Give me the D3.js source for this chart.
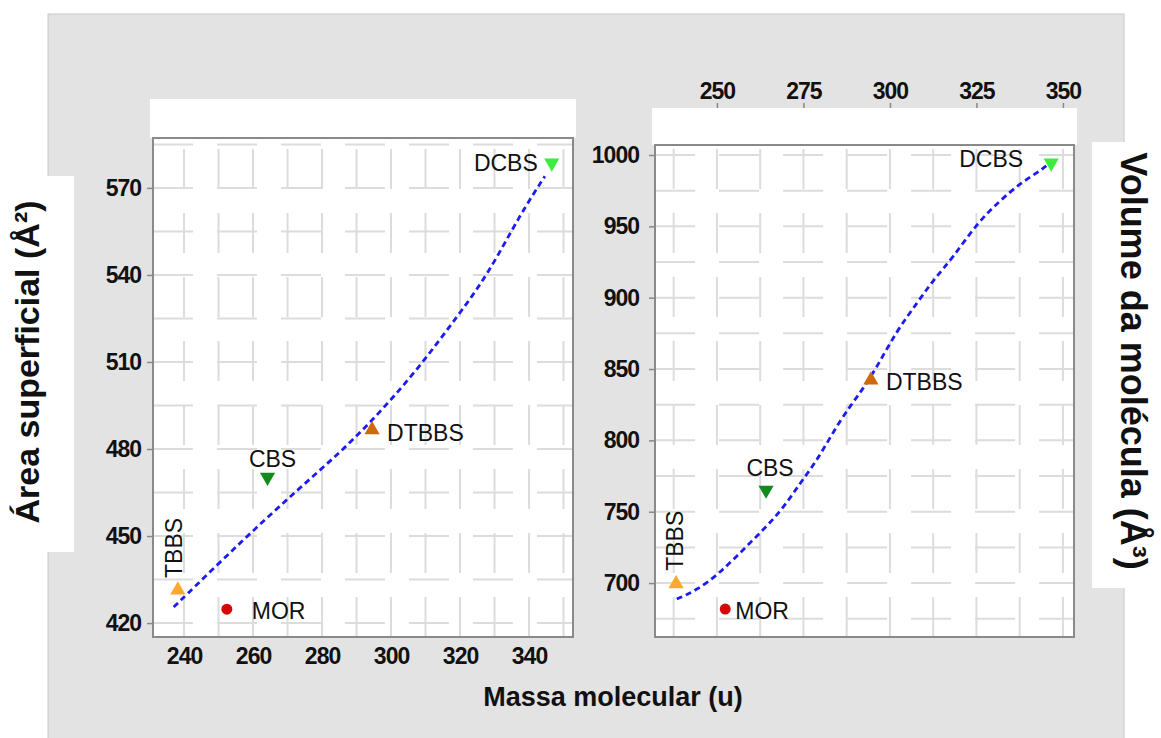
<!DOCTYPE html>
<html>
<head>
<meta charset="utf-8">
<script src="https://cdn.jsdelivr.net/npm/d3@7"></script>
<style>
  body { margin: 0; background: #fff; }
  text { font-family: "Liberation Sans", Arial, sans-serif; fill: #111; }
</style>
</head>
<body>
<div class="chart"></div>
<script>
// compounds and values
var compounds = ["TBBS", "MOR", "CBS", "DTBBS", "DCBS"];
var massValues = [238.2, 252.4, 264.2, 294.5, 346.6];
var areaValues = [431.4, 424.8, 470.3, 486.6, 578.6];
var volumeValues = [699.5, 681.8, 765.2, 842.3, 994.4];

// dashed fit curves
var areaFitMass = [237, 250, 261, 273, 284, 294, 307.5, 320, 328, 337.5, 344.6];
var areaFitValues = [425.5, 440.5, 453, 466, 477.5, 489, 507, 527, 540, 561, 574];
var volumeFitMass = [238.4, 244.2, 250.9, 259.5, 268.2, 274, 279, 285.5, 291.3, 295.7, 302, 307.8, 312.4, 318.2, 325.1, 331.8, 337.6, 342.8, 345.5];
var volumeFitValues = [688.8, 695, 707, 728, 749, 770, 786, 814, 833, 849, 877, 896, 912, 928, 952, 968, 980, 988, 993];

// tick labels
var areaTicks = [420, 450, 480, 510, 540, 570];
var massTicksBottom = [240, 260, 280, 300, 320, 340];
var massTicksTop = [250, 275, 300, 325, 350];
var volumeTicks = [700, 750, 800, 850, 900, 950, 1000];

var markerStyle = {
  TBBS: { shape: "up", color: "#f9a92c" },
  MOR: { shape: "circle", color: "#d40808" },
  CBS: { shape: "down", color: "#138a1d" },
  DTBBS: { shape: "up", color: "#cf6a0c" },
  DCBS: { shape: "down", color: "#3ded3d" }
};

var svg = d3.select(".chart").append("svg")
  .attr("width", 1161)
  .attr("height", 738);

// grey backdrop and the white label boxes
svg.append("rect")
  .attr("x", 48).attr("y", 14)
  .attr("width", 1076).attr("height", 740)
  .attr("fill", "#e3e3e3")
  .attr("stroke", "#c8c8c8");

svg.append("rect")
  .attr("x", 0).attr("y", 176)
  .attr("width", 74).attr("height", 376)
  .attr("fill", "#fff");

svg.append("rect")
  .attr("x", 1092).attr("y", 142)
  .attr("width", 69).attr("height", 446)
  .attr("fill", "#fff");

function drawPanel(cfg) {
  var x = d3.scaleLinear().domain(cfg.xDomain).range([cfg.left, cfg.right]);
  var y = d3.scaleLinear().domain(cfg.yDomain).range([cfg.bottom, cfg.top]);

  // white title strip above the plot
  svg.append("rect")
    .attr("x", cfg.left - 3).attr("y", cfg.stripTop)
    .attr("width", cfg.right - cfg.left + 6).attr("height", cfg.top - cfg.stripTop)
    .attr("fill", "#fff");

  svg.append("rect")
    .attr("x", cfg.left).attr("y", cfg.top)
    .attr("width", cfg.right - cfg.left).attr("height", cfg.bottom - cfg.top)
    .attr("fill", "#fff");

  var grid = svg.append("g")
    .attr("stroke", "#dcdcdc")
    .attr("stroke-width", 2)
    .attr("stroke-dasharray", "40,24");

  grid.selectAll("line.gx")
    .data(cfg.gridX)
    .enter()
    .append("line")
    .attr("x1", d => x(d)).attr("x2", d => x(d))
    .attr("y1", cfg.bottom).attr("y2", cfg.top);

  grid.selectAll("line.gy")
    .data(cfg.gridY)
    .enter()
    .append("line")
    .attr("x1", cfg.left).attr("x2", cfg.right)
    .attr("y1", d => y(d)).attr("y2", d => y(d));

  // axes
  var yAxis = svg.append("g")
    .attr("transform", `translate(${cfg.left}, 0)`)
    .call(d3.axisLeft(y).tickValues(cfg.yTicks).tickFormat(d3.format("d"))
      .tickSize(6).tickPadding(cfg.yPad));

  var xAxis;
  if (cfg.xTop) {
    xAxis = svg.append("g")
      .attr("transform", `translate(0, ${cfg.stripTop})`)
      .call(d3.axisTop(x).tickValues(cfg.xTicks).tickSize(5).tickPadding(4));
  } else {
    xAxis = svg.append("g")
      .attr("transform", `translate(0, ${cfg.bottom})`)
      .call(d3.axisBottom(x).tickValues(cfg.xTicks).tickSize(0).tickPadding(11));
  }

  [xAxis, yAxis].forEach(function(a) {
    a.select(".domain").remove();
    a.selectAll(".tick line").attr("stroke", "#888").attr("stroke-width", 1.5);
    a.selectAll(".tick text")
      .attr("font-family", "'Liberation Sans', Arial, sans-serif")
      .attr("font-size", "23px")
      .attr("font-weight", "bold")
      .attr("letter-spacing", "-1px")
      .attr("fill", "#111");
  });

  // frame
  svg.append("rect")
    .attr("x", cfg.left).attr("y", cfg.top)
    .attr("width", cfg.right - cfg.left).attr("height", cfg.bottom - cfg.top)
    .attr("fill", "none")
    .attr("stroke", "#8a8a8a")
    .attr("stroke-width", 2);

  // fitted curve
  var line = d3.line()
    .x(d => x(d[0]))
    .y(d => y(d[1]))
    .curve(d3.curveBasis);

  svg.append("path")
    .datum(d3.zip(cfg.fitX, cfg.fitY))
    .attr("d", line)
    .attr("fill", "none")
    .attr("stroke", "#1c1cf0")
    .attr("stroke-width", 2.8)
    .attr("stroke-dasharray", "6,4");

  // markers
  var pts = compounds.map(function(c, i) {
    return { name: c, mass: massValues[i], val: cfg.values[i] };
  });

  svg.selectAll(null)
    .data(pts)
    .enter()
    .append("path")
    .attr("d", function(d) {
      var s = markerStyle[d.name].shape;
      return d3.symbol().type(s == "circle" ? d3.symbolCircle : d3.symbolTriangle).size(s == "circle" ? 95 : 100)();
    })
    .attr("transform", function(d) {
      var rot = markerStyle[d.name].shape == "down" ? " rotate(180)" : "";
      return `translate(${x(d.mass)}, ${y(d.val)})` + rot;
    })
    .attr("fill", d => markerStyle[d.name].color);

  // point labels
  svg.selectAll(null)
    .data(pts)
    .enter()
    .append("text")
    .attr("font-size", "23px")
    .attr("dominant-baseline", "central")
    .attr("text-anchor", d => cfg.labels[d.name].anchor)
    .attr("transform", function(d) {
      var o = cfg.labels[d.name];
      var t = `translate(${x(d.mass) + o.dx}, ${y(d.val) + o.dy})`;
      return o.rotate ? t + " rotate(-90)" : t;
    })
    .text(d => d.name);
}

drawPanel({
  left: 153, right: 573, top: 138, bottom: 637, stripTop: 99,
  xDomain: [231, 352.75], yDomain: [415.2, 587.2],
  xTicks: massTicksBottom, yTicks: areaTicks, xTop: false, yPad: 6,
  gridX: d3.range(240, 351, 10), gridY: d3.range(420, 586, 15),
  values: areaValues, fitX: areaFitMass, fitY: areaFitValues,
  labels: {
    TBBS: { dx: -4, dy: -12, anchor: "start", rotate: true },
    MOR: { dx: 25, dy: 2, anchor: "start" },
    CBS: { dx: 5, dy: -18, anchor: "middle" },
    DTBBS: { dx: 15, dy: 3, anchor: "start" },
    DCBS: { dx: -14, dy: 0, anchor: "end" }
  }
});

drawPanel({
  left: 655, right: 1074, top: 145, bottom: 637, stripTop: 108,
  xDomain: [232.1, 353.2], yDomain: [662.2, 1007],
  xTicks: massTicksTop, yTicks: volumeTicks, xTop: true, yPad: 10,
  gridX: d3.range(237.5, 351, 12.5), gridY: d3.range(675, 1001, 25),
  values: volumeValues, fitX: volumeFitMass, fitY: volumeFitValues,
  labels: {
    TBBS: { dx: -1, dy: -13, anchor: "start", rotate: true },
    MOR: { dx: 10, dy: 2, anchor: "start" },
    CBS: { dx: 4, dy: -22, anchor: "middle" },
    DTBBS: { dx: 15, dy: 2, anchor: "start" },
    DCBS: { dx: -28, dy: -4, anchor: "end" }
  }
});

// axis titles
svg.append("text")
  .attr("x", 613).attr("y", 697)
  .attr("text-anchor", "middle")
  .attr("dominant-baseline", "central")
  .attr("font-size", "27px")
  .attr("font-weight", "bold")
  .text("Massa molecular (u)");

svg.append("text")
  .attr("transform", "translate(27, 362) rotate(-90)")
  .attr("text-anchor", "middle")
  .attr("dominant-baseline", "central")
  .attr("font-size", "34px")
  .attr("font-weight", "bold")
  .text("Área superficial  (Å²)");

svg.append("text")
  .attr("transform", "translate(1133, 361) rotate(90)")
  .attr("text-anchor", "middle")
  .attr("dominant-baseline", "central")
  .attr("font-size", "36px")
  .attr("font-weight", "bold")
  .text("Volume da molécula (Å³)");
</script>
</body>
</html>
